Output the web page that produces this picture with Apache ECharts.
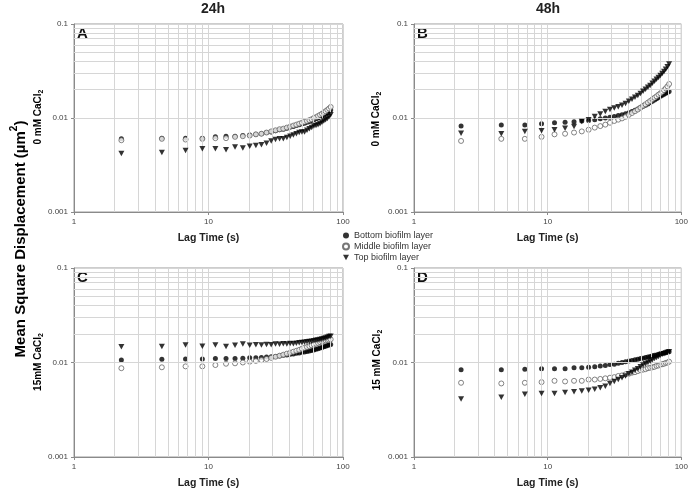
<!DOCTYPE html>
<html>
<head>
<meta charset="utf-8">
<script src="https://cdn.jsdelivr.net/npm/echarts@6/dist/echarts.min.js"></script>
<style>html,body{margin:0;padding:0;background:#fff}#c{width:691px;height:490px}</style>
</head>
<body>
<div id="c"></div>
<script>
// ---- data ----
const lagTime = [2.25,4.5,6.75,9,11.25,13.5,15.75,18,20.25,22.5,24.75,27,29.25,31.5,33.75,36,38.25,40.5,42.75,45,47.25,49.5,51.75,54,56.25,58.5,60.75,63,65.25,67.5,69.75,72,74.25,76.5,78.75,81];
const seriesNames = ['Bottom biofilm layer','Middle biofilm layer','Top biofilm layer'];
const xTickLabels = ['1','10','100'];
const yTickLabels = ['0.001','0.01','0.1'];

const aBottom = [0.0060,0.0061,0.0061,0.0061,0.0063,0.0064,0.0064,0.0065,0.0066,0.0067,0.0068,0.0070,0.0071,0.0073,0.0075,0.0076,0.0078,0.0080,0.0081,0.0083,0.0085,0.0087,0.0088,0.0090,0.0092,0.0094,0.0096,0.0098,0.0100,0.0103,0.0105,0.0108,0.0111,0.0114,0.0118,0.0122];
const aMiddle = [0.0058,0.0060,0.0059,0.0060,0.0061,0.0061,0.0063,0.0064,0.0065,0.0067,0.0068,0.0070,0.0072,0.0074,0.0076,0.0077,0.0079,0.0081,0.0083,0.0085,0.0087,0.0089,0.0091,0.0093,0.0095,0.0097,0.0100,0.0102,0.0105,0.0108,0.0111,0.0114,0.0118,0.0122,0.0126,0.0131];
const aTop = [0.0042,0.0043,0.0045,0.0047,0.0047,0.0046,0.0049,0.0048,0.0050,0.0051,0.0052,0.0054,0.0057,0.0059,0.0060,0.0060,0.0062,0.0064,0.0066,0.0068,0.0070,0.0071,0.0071,0.0074,0.0077,0.0079,0.0082,0.0083,0.0085,0.0087,0.0090,0.0093,0.0096,0.0099,0.0103,0.0108];

const bBottom = [0.0082,0.0084,0.0084,0.0087,0.0089,0.0090,0.0091,0.0093,0.0094,0.0096,0.0098,0.0100,0.0102,0.0104,0.0106,0.0108,0.0111,0.0114,0.0117,0.0121,0.0125,0.0129,0.0133,0.0137,0.0141,0.0146,0.0151,0.0155,0.0160,0.0165,0.0170,0.0175,0.0179,0.0183,0.0187,0.0191];
const bMiddle = [0.0057,0.0060,0.0060,0.0063,0.0067,0.0068,0.0070,0.0072,0.0075,0.0079,0.0082,0.0085,0.0089,0.0093,0.0096,0.0099,0.0103,0.0108,0.0113,0.0118,0.0123,0.0129,0.0135,0.0140,0.0146,0.0152,0.0158,0.0164,0.0170,0.0177,0.0183,0.0190,0.0198,0.0207,0.0217,0.0230];
const bTop = [0.0069,0.0068,0.0072,0.0073,0.0075,0.0078,0.0081,0.0092,0.0096,0.0104,0.0110,0.0117,0.0123,0.0128,0.0132,0.0137,0.0143,0.0151,0.0158,0.0166,0.0174,0.0182,0.0192,0.0202,0.0212,0.0222,0.0234,0.0246,0.0258,0.0270,0.0284,0.0298,0.0313,0.0330,0.0350,0.0375];

const cBottom = [0.0106,0.0108,0.0109,0.0109,0.0110,0.0110,0.0110,0.0111,0.0112,0.0112,0.0113,0.0114,0.0115,0.0116,0.0117,0.0119,0.0120,0.0122,0.0123,0.0125,0.0126,0.0128,0.0129,0.0131,0.0132,0.0134,0.0136,0.0138,0.0140,0.0142,0.0144,0.0147,0.0149,0.0151,0.0153,0.0155];
const cMiddle = [0.0087,0.0089,0.0091,0.0091,0.0094,0.0097,0.0098,0.0100,0.0102,0.0104,0.0106,0.0109,0.0112,0.0115,0.0118,0.0121,0.0124,0.0127,0.0130,0.0133,0.0136,0.0140,0.0143,0.0146,0.0149,0.0152,0.0155,0.0158,0.0161,0.0164,0.0167,0.0169,0.0171,0.0173,0.0174,0.0176];
const cTop = [0.0147,0.0148,0.0153,0.0149,0.0153,0.0148,0.0152,0.0157,0.0152,0.0154,0.0153,0.0155,0.0154,0.0157,0.0156,0.0158,0.0157,0.0159,0.0158,0.0160,0.0162,0.0163,0.0164,0.0166,0.0167,0.0168,0.0170,0.0172,0.0173,0.0175,0.0177,0.0180,0.0182,0.0185,0.0188,0.0190];

const dBottom = [0.0084,0.0084,0.0085,0.0086,0.0086,0.0086,0.0088,0.0088,0.0089,0.0090,0.0092,0.0093,0.0095,0.0096,0.0098,0.0100,0.0102,0.0104,0.0105,0.0107,0.0108,0.0110,0.0111,0.0113,0.0114,0.0116,0.0118,0.0119,0.0120,0.0122,0.0124,0.0125,0.0126,0.0127,0.0129,0.0130];
const dMiddle = [0.0061,0.0060,0.0061,0.0062,0.0064,0.0063,0.0064,0.0064,0.0066,0.0066,0.0067,0.0068,0.0069,0.0070,0.0072,0.0073,0.0075,0.0076,0.0078,0.0079,0.0081,0.0083,0.0084,0.0085,0.0087,0.0088,0.0089,0.0090,0.0092,0.0093,0.0095,0.0096,0.0097,0.0099,0.0100,0.0102];
const dTop = [0.0041,0.0043,0.0046,0.0047,0.0047,0.0048,0.0049,0.0050,0.0051,0.0052,0.0054,0.0056,0.0060,0.0063,0.0066,0.0069,0.0072,0.0076,0.0079,0.0083,0.0086,0.0090,0.0094,0.0097,0.0100,0.0103,0.0107,0.0110,0.0113,0.0116,0.0119,0.0122,0.0124,0.0126,0.0128,0.0130];

const panels = [
  {letter:'A', bottom:aBottom, middle:aMiddle, top:aTop},
  {letter:'B', bottom:bBottom, middle:bMiddle, top:bTop},
  {letter:'C', bottom:cBottom, middle:cMiddle, top:cTop},
  {letter:'D', bottom:dBottom, middle:dMiddle, top:dTop}
];

// ---- layout / style ----
const FONT = 'Liberation Sans, Arial, sans-serif';
const grids = [
  {left:74, top:24, width:269, height:188},
  {left:414, top:24, width:270, height:188},
  {left:74, top:268, width:269, height:189},
  {left:414, top:268, width:270, height:189}
];
const minorX = [2,3,4,5,6,7,8,9,20,30,40,50,60,70,80,90];
const minorY = [0.002,0.003,0.004,0.005,0.006,0.007,0.008,0.009,0.02,0.03,0.04,0.05,0.06,0.07,0.08,0.09];
const triDown = 'path://M0,0 L10,0 L5,9 Z';

function pickLabel(list, v){
  const lv = Math.log10(v);
  for (const l of list){ if (Math.abs(Math.log10(parseFloat(l)) - lv) < 0.02) return l; }
  return '';
}
function pts(ys){ return lagTime.map((x,i)=>[x, ys[i]]); }

const xAxis = [], yAxis = [], series = [];
grids.forEach((g,i)=>{
  xAxis.push({
    type:'log', logBase:10, min:1, max:100, gridIndex:i,
    axisLine:{show:true, lineStyle:{color:'#8a8a8a', width:1}},
    axisTick:{show:true, length:3, lineStyle:{color:'#8a8a8a'}},
    axisLabel:{fontSize:8, color:'#444', fontFamily:FONT, margin:6, formatter:v=>pickLabel(xTickLabels,v)},
    splitLine:{show:true, lineStyle:{color:'#d6d6d6', width:1}},
    name:'Lag Time (s)', nameLocation:'middle', nameGap:21,
    nameTextStyle:{fontSize:10.5, fontWeight:'bold', color:'#222', fontFamily:FONT}
  });
  yAxis.push({
    type:'log', logBase:10, min:0.001, max:0.1, gridIndex:i,
    axisLine:{show:true, lineStyle:{color:'#8a8a8a', width:1}},
    axisTick:{show:true, length:3, lineStyle:{color:'#8a8a8a'}},
    axisLabel:{fontSize:8, color:'#444', fontFamily:FONT, margin:6, formatter:v=>pickLabel(yTickLabels,v)},
    splitLine:{show:true, lineStyle:{color:'#d6d6d6', width:1}}
  });
  // minor grid lines
  series.push({
    type:'scatter', xAxisIndex:i, yAxisIndex:i, data:[], silent:true, z:1,
    markLine:{
      silent:true, symbol:['none','none'], animation:false, label:{show:false},
      lineStyle:{color:'#d6d6d6', width:1, type:'solid'},
      emphasis:{disabled:true},
      data: minorX.map(v=>({xAxis:v})).concat(minorY.map(v=>({yAxis:v})))
    }
  });
  const p = panels[i];
  series.push({
    name:seriesNames[0], type:'scatter', xAxisIndex:i, yAxisIndex:i, z:3,
    symbol:'circle', symbolSize:5, itemStyle:{color:'#000'}, data:pts(p.bottom)
  });
  series.push({
    name:seriesNames[1], type:'scatter', xAxisIndex:i, yAxisIndex:i, z:4,
    symbol:'circle', symbolSize:5, itemStyle:{color:'#fff', borderColor:'#555', borderWidth:0.9}, data:pts(p.middle)
  });
  series.push({
    name:seriesNames[2], type:'scatter', xAxisIndex:i, yAxisIndex:i, z:5,
    symbol:triDown, symbolSize:[6,5.5], itemStyle:{color:'#000'}, data:pts(p.top)
  });
});

const graphic = [];
function txt(x,y,text,opts){
  graphic.push(Object.assign({type:'text', x:x, y:y, silent:true, style:Object.assign({text:text, fill:'#222', font:'bold 14px '+FONT, align:'center', verticalAlign:'middle'}, opts.style||{})}, opts.el||{}));
}
txt(213,9,'24h',{style:{font:'bold 14px '+FONT}});
txt(548,9,'48h',{style:{font:'bold 14px '+FONT}});
// panel letters
[[77,34,'A'],[417,34,'B'],[77,278,'C'],[417,278,'D']].forEach(a=>{
  txt(a[0],a[1],a[2],{style:{font:'bold 15px '+FONT, align:'left', fill:'#111'}});
});
const subRich = {
  m:{fontSize:10, fontWeight:'bold', fontFamily:FONT, color:'#222', lineHeight:14, verticalAlign:'middle'},
  s:{fontSize:7, fontWeight:'bold', fontFamily:FONT, color:'#222', lineHeight:8, verticalAlign:'bottom'}
};
function rot(x,y,main,sub){
  graphic.push({type:'text', x:x, y:y, rotation:Math.PI/2, silent:true,
    style:{text:'{m|'+main+'}{s|'+sub+'}', rich:subRich, align:'center', verticalAlign:'middle'}});
}
rot(38,117,'0 mM CaCl','2');
rot(376,119,'0 mM CaCl','2');
rot(38,362,'15mM CaCl','2');
rot(377,360,'15 mM CaCl','2');
graphic.push({type:'text', x:19, y:239, rotation:Math.PI/2, silent:true,
  style:{text:'{m|Mean Square Displacement (µm}{s|2}{m|)}', align:'center', verticalAlign:'middle',
    rich:{
      m:{fontSize:15, fontWeight:'bold', fontFamily:FONT, color:'#222', lineHeight:19, verticalAlign:'bottom'},
      s:{fontSize:10, fontWeight:'bold', fontFamily:FONT, color:'#222', lineHeight:12, verticalAlign:'top'}
    }}});

const option = {
  animation:false,
  backgroundColor:'#fff',
  grid: grids.map(g=>Object.assign({show:true, borderColor:'#9a9a9a', borderWidth:1, backgroundColor:'transparent'}, g)),
  xAxis, yAxis, series, graphic,
  legend:{
    data:[
      {name:seriesNames[0], icon:'circle'},
      {name:seriesNames[1], icon:'circle'},
      {name:seriesNames[2], icon:triDown}
    ],
    orient:'vertical', left:337, top:226, itemWidth:6, itemHeight:6, itemGap:2,
    textStyle:{fontSize:9, color:'#333', fontFamily:FONT}, selectedMode:false
  }
};
const chart = echarts.init(document.getElementById('c'), null, {renderer:'canvas'});
chart.setOption(option);
</script>
</body>
</html>
